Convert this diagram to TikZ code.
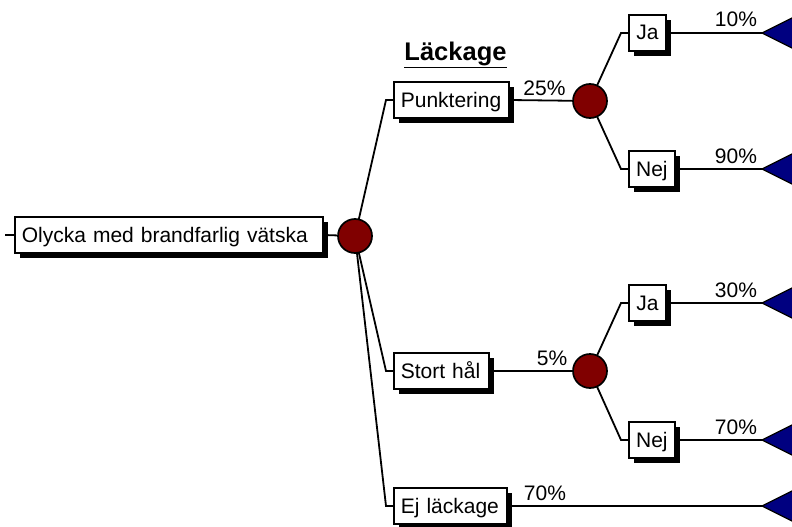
\documentclass[tikz,border=0pt]{standalone}
\usepackage{fontspec}
\setmainfont{Liberation Sans}
\usetikzlibrary{shadows,backgrounds}
\definecolor{chancered}{HTML}{800000}
\definecolor{endblue}{HTML}{000080}

\begin{document}
\begin{tikzpicture}[x=1pt,y=-1pt,
  box/.style={draw=black, fill=white, line width=1.7pt, minimum height=36pt,
    inner xsep=7pt, inner ysep=0pt, text height=14pt, text depth=0pt,
    font={\fontsize{21}{24}\selectfont},
    anchor=west, align=left,
    general shadow={fill=black, shadow xshift=5pt, shadow yshift=-5pt}},
  cbox/.style={box, align=center},
  chance/.style={circle, draw=black, fill=chancered, minimum size=34pt,
    inner sep=0pt, line width=1.7pt},
  pct/.style={font=\fontsize{21}{24}\selectfont, anchor=base, inner sep=0pt},
  edge/.style={draw=black, line width=1.8pt},
  endtri/.style={fill=endblue, draw=black, line width=1.2pt, line join=miter}
]
\useasboundingbox (0,0) rectangle (792,527);

% heading
\node[font=\fontsize{25.5}{30}\selectfont\bfseries, anchor=base, inner sep=0pt]
  (head) at (455.5,60) {\underline{Läckage}};

% decision tree nodes
\node[box, text width=294pt] (root) at (14,235) {\mbox{Olycka med brandfarlig vätska}};
\node[chance] (c1) at (355,236) {};

\node[box, text width=101pt] (punk) at (393,100) {\mbox{Punktering}};
\node[box, text width=81pt]  (hal)  at (393,371) {\mbox{Stort hål}};
\node[box, text width=99pt]  (ej)   at (393,506) {\mbox{Ej läckage}};

\node[chance] (c2) at (590,101) {};
\node[chance] (c3) at (590,371) {};

\node[cbox, text width=23pt] (ja1)  at (628,33)  {Ja};
\node[cbox, text width=32pt] (nej1) at (628,169) {Nej};
\node[cbox, text width=23pt] (ja2)  at (628,303) {Ja};
\node[cbox, text width=32pt] (nej2) at (628,440) {Nej};

% end points (tips of the terminal triangles)
\coordinate (in) at (5,235);
\coordinate (t1) at (762,33);
\coordinate (t2) at (762,169);
\coordinate (t3) at (762,303);
\coordinate (t4) at (762,440);
\coordinate (t5) at (762,506);

\foreach \t in {t1,t2,t3,t4,t5}
  \filldraw[endtri] (\t) -- ++(36,-18) -- ++(0,36) -- cycle;

% connectors
\begin{scope}[on background layer]
  \draw[edge] (in) -- (root.west);
  \draw[edge] (root.east) -- (c1);
  \draw[edge] (c1.center) -- ([xshift=-7pt]punk.west) -- (punk.west);
  \draw[edge] (c1.center) -- ([xshift=-7pt]hal.west) -- (hal.west);
  \draw[edge] (c1.center) -- ([xshift=-7pt]ej.west) -- (ej.west);
  \draw[edge] (punk.east) -- (c2);
  \draw[edge] (hal.east) -- (c3);
  \draw[edge] (ej.east) -- (t5);
  \draw[edge] (c2.center) -- ([xshift=-7pt]ja1.west) -- (ja1.west);
  \draw[edge] (c2.center) -- ([xshift=-7pt]nej1.west) -- (nej1.west);
  \draw[edge] (c3.center) -- ([xshift=-7pt]ja2.west) -- (ja2.west);
  \draw[edge] (c3.center) -- ([xshift=-7pt]nej2.west) -- (nej2.west);
  \draw[edge] (ja1.east) -- (t1);
  \draw[edge] (nej1.east) -- (t2);
  \draw[edge] (ja2.east) -- (t3);
  \draw[edge] (nej2.east) -- (t4);
\end{scope}

% probabilities
\node[pct] (p25) at (544.5,95) {25\%};
\node[pct] (p5)  at (552,365)  {5\%};
\node[pct] (p70) at (545,500)  {70\%};
\node[pct] (p10) at (736,27)   {10\%};
\node[pct] (p90) at (736,163)  {90\%};
\node[pct] (p30) at (736,297)  {30\%};
\node[pct] (p70b) at (736,434) {70\%};
\end{tikzpicture}
\end{document}
